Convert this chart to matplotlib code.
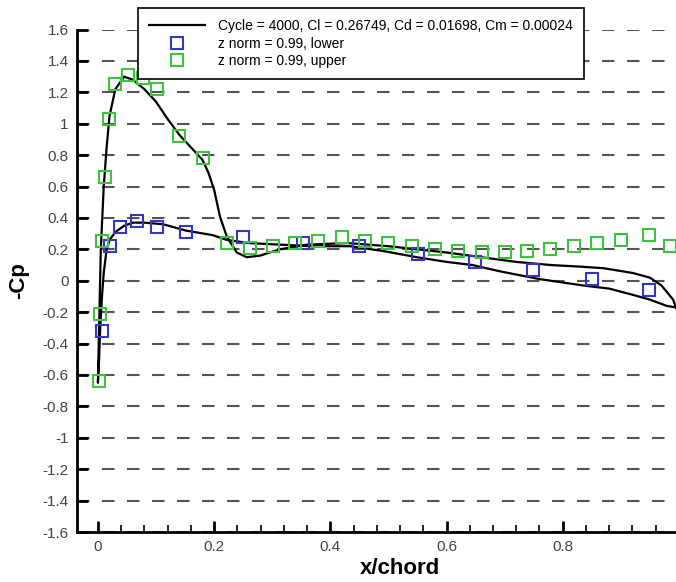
import numpy as np
import matplotlib.pyplot as plt
from matplotlib.ticker import MultipleLocator, FuncFormatter

# Cp raspodela, upper/lower po tetivi
upper_x = [0.0, 0.002, 0.005, 0.01, 0.015, 0.02, 0.03, 0.045, 0.06, 0.08, 0.1, 0.12,
           0.14, 0.16, 0.18, 0.19, 0.2, 0.21, 0.222, 0.239, 0.256, 0.279, 0.313,
           0.36, 0.43, 0.5, 0.55, 0.6, 0.66, 0.72, 0.78, 0.83, 0.87, 0.92, 0.95,
           0.97, 0.99, 0.995]
upper_y = [-0.65, -0.3, 0.2, 0.6, 0.85, 1.05, 1.22, 1.3, 1.28, 1.22, 1.14, 1.03,
           0.93, 0.85, 0.77, 0.69, 0.58, 0.41, 0.28, 0.18, 0.15, 0.16, 0.2,
           0.23, 0.24, 0.22, 0.2, 0.18, 0.15, 0.12, 0.1, 0.09, 0.08, 0.05, 0.02,
           -0.03, -0.12, -0.17]
lower_x = [0.0, 0.002, 0.004, 0.007, 0.01, 0.015, 0.02, 0.03, 0.045, 0.06, 0.08,
           0.112, 0.151, 0.198, 0.222, 0.26, 0.313, 0.37, 0.434, 0.49, 0.549,
           0.6, 0.645, 0.692, 0.761, 0.835, 0.88, 0.921, 0.95, 0.979, 0.995]
lower_y = [-0.65, -0.5, -0.3, -0.1, 0.05, 0.2, 0.26, 0.31, 0.35, 0.37, 0.37,
           0.36, 0.32, 0.29, 0.26, 0.24, 0.23, 0.22, 0.22, 0.19, 0.15,
           0.12, 0.1, 0.06, 0.01, -0.03, -0.05, -0.09, -0.12, -0.16, -0.17]

lower_px = [0.007, 0.021, 0.038, 0.067, 0.102, 0.151, 0.25, 0.353, 0.45, 0.551,
            0.649, 0.749, 0.85, 0.948]
lower_py = [-0.32, 0.22, 0.34, 0.38, 0.34, 0.31, 0.28, 0.24, 0.22, 0.17,
            0.12, 0.07, 0.01, -0.06]
upper_px = [0.002, 0.003, 0.007, 0.012, 0.019, 0.029, 0.052, 0.077, 0.102, 0.139,
            0.181, 0.222, 0.262, 0.301, 0.339, 0.379, 0.42, 0.46, 0.499, 0.54,
            0.58, 0.62, 0.661, 0.70, 0.738, 0.778, 0.819, 0.859, 0.90, 0.948,
            0.985]
upper_py = [-0.64, -0.21, 0.25, 0.66, 1.03, 1.25, 1.31, 1.29, 1.22, 0.92,
            0.78, 0.24, 0.21, 0.22, 0.24, 0.25, 0.28, 0.25, 0.24, 0.22,
            0.20, 0.19, 0.18, 0.18, 0.19, 0.20, 0.22, 0.24, 0.26, 0.29,
            0.22]

lbl_line = 'Cycle = 4000, Cl = 0.26749, Cd = 0.01698, Cm = 0.00024'
lbl_low = 'z norm = 0.99, lower'
lbl_up = 'z norm = 0.99, upper'

plt.rcParams['font.family'] = ['Liberation Sans', 'DejaVu Sans']

fig = plt.figure(figsize=(6.76, 5.82), dpi=100)
ax = fig.add_axes([0.1139, 0.0859, 0.8861, 0.8634])

cx = upper_x[::-1] + lower_x[1:]
cy = upper_y[::-1] + lower_y[1:]
ax.plot(cx, cy, color='black', lw=1.6, label=lbl_line, zorder=3)
ax.plot(lower_px, lower_py, 's', ms=8, mfc='none', mec='#3535c8', mew=1.5,
        label=lbl_low, zorder=4)
ax.plot(upper_px, upper_py, 's', ms=8, mfc='none', mec='#3fc23f', mew=1.5,
        label=lbl_up, zorder=4)

ax.set_xlim(-0.036, 0.995)
ax.set_ylim(-1.6, 1.6)
ax.yaxis.set_major_locator(MultipleLocator(0.2))
ax.xaxis.set_major_locator(MultipleLocator(0.2))
ax.xaxis.set_minor_locator(MultipleLocator(0.04))
ax.yaxis.set_major_formatter(FuncFormatter(lambda v, p: '%g' % round(v, 2)))
ax.xaxis.set_major_formatter(FuncFormatter(lambda v, p: '%g' % round(v, 2)))

ax.grid(axis='y', color='#555555', lw=1.5, ls=(0, (6, 6)))
ax.set_axisbelow(True)
for s in ['top', 'right']:
    ax.spines[s].set_visible(False)
for s in ['left', 'bottom']:
    ax.spines[s].set_linewidth(2)
ax.tick_params(axis='both', which='major', direction='in', length=8, width=2,
               labelsize=11, labelcolor='#444444')
ax.tick_params(axis='x', which='minor', direction='in', length=5, width=1.2)
ax.tick_params(axis='y', pad=6)
ax.tick_params(axis='x', pad=6)

ax.set_xlabel('x/chord', fontsize=16, fontweight='bold')
ax.xaxis.set_label_coords(0.54, -0.052)
ax.set_ylabel('-Cp', fontsize=16, fontweight='bold', labelpad=10)

leg = fig.legend(loc='upper left', bbox_to_anchor=(0.204, 0.986), fontsize=10,
                 handlelength=4.0, labelspacing=0.25, borderpad=0.8,
                 borderaxespad=0, handletextpad=1.0, fancybox=False,
                 framealpha=1, edgecolor='black')
leg.get_frame().set_linewidth(1.2)

plt.savefig('out.png', dpi=100)
